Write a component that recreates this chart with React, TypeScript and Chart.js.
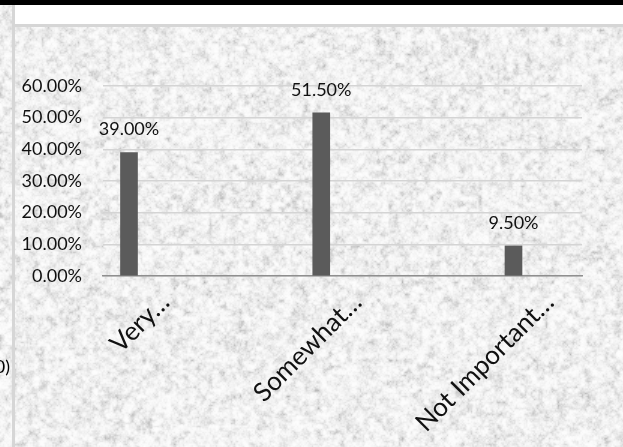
import React, { useEffect, useRef } from "react";
import { Chart, registerables } from "chart.js";

Chart.register(...registerables);

// Survey answers and their shares (percent)
const categories: string[] = ["Very…", "Somewhat…", "Not Important…"];
const shares: number[] = [39.0, 51.5, 9.5];
const yTicks: number[] = [0, 10, 20, 30, 40, 50, 60];

const W = 623;
const H = 447;
const FONT = "Lato";
const FONT_SIZE = 18;
const CAT_FONT_SIZE = 26;

// Deterministic granite-like paper texture
function hash(ix: number, iy: number, seed: number): number {
  let h = Math.imul(ix, 374761393) + Math.imul(iy, 668265263) + Math.imul(seed, 144665);
  h = Math.imul(h ^ (h >>> 13), 1274126177);
  h = h ^ (h >>> 16);
  return (h >>> 0) / 4294967295;
}
function valueNoise(x: number, y: number, cell: number, seed: number): number {
  const gx = x / cell;
  const gy = y / cell;
  const x0 = Math.floor(gx);
  const y0 = Math.floor(gy);
  const fx = gx - x0;
  const fy = gy - y0;
  const sx = fx * fx * (3 - 2 * fx);
  const sy = fy * fy * (3 - 2 * fy);
  const a = hash(x0, y0, seed);
  const b = hash(x0 + 1, y0, seed);
  const c = hash(x0, y0 + 1, seed);
  const d = hash(x0 + 1, y0 + 1, seed);
  return (a + (b - a) * sx) * (1 - sy) + (c + (d - c) * sx) * sy;
}
function makeTexture(): HTMLCanvasElement {
  const cv = document.createElement("canvas");
  cv.width = W;
  cv.height = H;
  const ctx = cv.getContext("2d")!;
  const img = ctx.createImageData(W, H);
  for (let y = 0; y < H; y++) {
    for (let x = 0; x < W; x++) {
      const n =
        0.4 * valueNoise(x, y, 6, 1) +
        0.35 * valueNoise(x, y, 3, 2) +
        0.25 * valueNoise(x, y, 1.5, 3);
      const v = 253 - Math.pow(1 - n, 2.5) * 74;
      const i = (y * W + x) * 4;
      img.data[i] = v;
      img.data[i + 1] = v;
      img.data[i + 2] = v;
      img.data[i + 3] = 255;
    }
  }
  ctx.putImageData(img, 0, 0);
  return cv;
}

const backdrop = {
  id: "backdrop",
  beforeDraw(chart: any) {
    const ctx = chart.ctx as CanvasRenderingContext2D;
    if (!chart.$texture) chart.$texture = makeTexture();
    ctx.save();
    ctx.drawImage(chart.$texture, 0, 0);
    // top black band and white strip
    ctx.fillStyle = "#000";
    ctx.fillRect(0, 0, W, 5);
    ctx.fillStyle = "#fff";
    ctx.fillRect(15, 5, W - 15, 19);
    // frame lines
    ctx.fillStyle = "#d6d6d6";
    ctx.fillRect(12, 5, 3, H - 5);
    ctx.fillRect(12, 24, W - 12, 3);
    // clipped fragment of a neighbouring label
    ctx.fillStyle = "#000";
    ctx.font = `${FONT_SIZE}px ${FONT}`;
    ctx.textAlign = "right";
    ctx.textBaseline = "middle";
    ctx.fillText("0)", 10, 367);
    ctx.restore();
  },
};

const valueLabels = {
  id: "valueLabels",
  afterDatasetsDraw(chart: any) {
    const ctx = chart.ctx as CanvasRenderingContext2D;
    const meta = chart.getDatasetMeta(0);
    ctx.save();
    ctx.fillStyle = "#111";
    ctx.font = `${FONT_SIZE}px ${FONT}`;
    ctx.textAlign = "center";
    ctx.textBaseline = "middle";
    meta.data.forEach((bar: any, i: number) => {
      ctx.fillText(shares[i].toFixed(2) + "%", bar.x, bar.y - 23);
    });
    ctx.restore();
  },
};

export default function App() {
  const ref = useRef<HTMLCanvasElement | null>(null);

  useEffect(() => {
    if (!ref.current) return;
    const chart = new Chart(ref.current, {
      type: "bar",
      data: {
        datasets: [
          {
            data: shares.map((v, i) => ({ x: i, y: v })),
            backgroundColor: "#5b5b5b",
            barThickness: 17,
          },
        ],
      },
      options: {
        responsive: false,
        animation: false,
        layout: { padding: { left: 0, top: 86, right: 41, bottom: 0 } },
        plugins: { legend: { display: false }, tooltip: { enabled: false } },
        scales: {
          x: {
            type: "linear",
            min: -0.1352,
            max: 2.3563,
            offset: false,
            grid: { display: false },
            border: { display: true, color: "#8f8f8f", width: 1.5 },
            afterBuildTicks: (scale: any) => {
              scale.ticks = categories.map((_, i) => ({ value: i }));
            },
            afterFit: (scale: any) => {
              scale.height = H - 276;
            },
            ticks: {
              autoSkip: false,
              minRotation: 45,
              maxRotation: 45,
              labelOffset: 36,
              padding: 3,
              color: "#111",
              font: { family: FONT, size: CAT_FONT_SIZE },
              callback: (v: any) => categories[v as number] ?? "",
            },
          },
          y: {
            min: 0,
            max: 60,
            afterBuildTicks: (scale: any) => {
              scale.ticks = yTicks.map((v) => ({ value: v }));
            },
            afterFit: (scale: any) => {
              scale.width = 103;
            },
            grid: { color: "#d4d4d4", lineWidth: 1.5, drawTicks: false },
            border: { display: false },
            ticks: {
              padding: 21,
              color: "#111",
              font: { family: FONT, size: FONT_SIZE },
              callback: (v: any) => Number(v).toFixed(2) + "%",
            },
          },
        },
      },
      plugins: [backdrop, valueLabels],
    });
    return () => chart.destroy();
  }, []);

  return (
    <div style={{ position: "fixed", left: 0, top: 0, width: W, height: H }}>
      <canvas ref={ref} width={W} height={H} style={{ display: "block" }} />
    </div>
  );
}
